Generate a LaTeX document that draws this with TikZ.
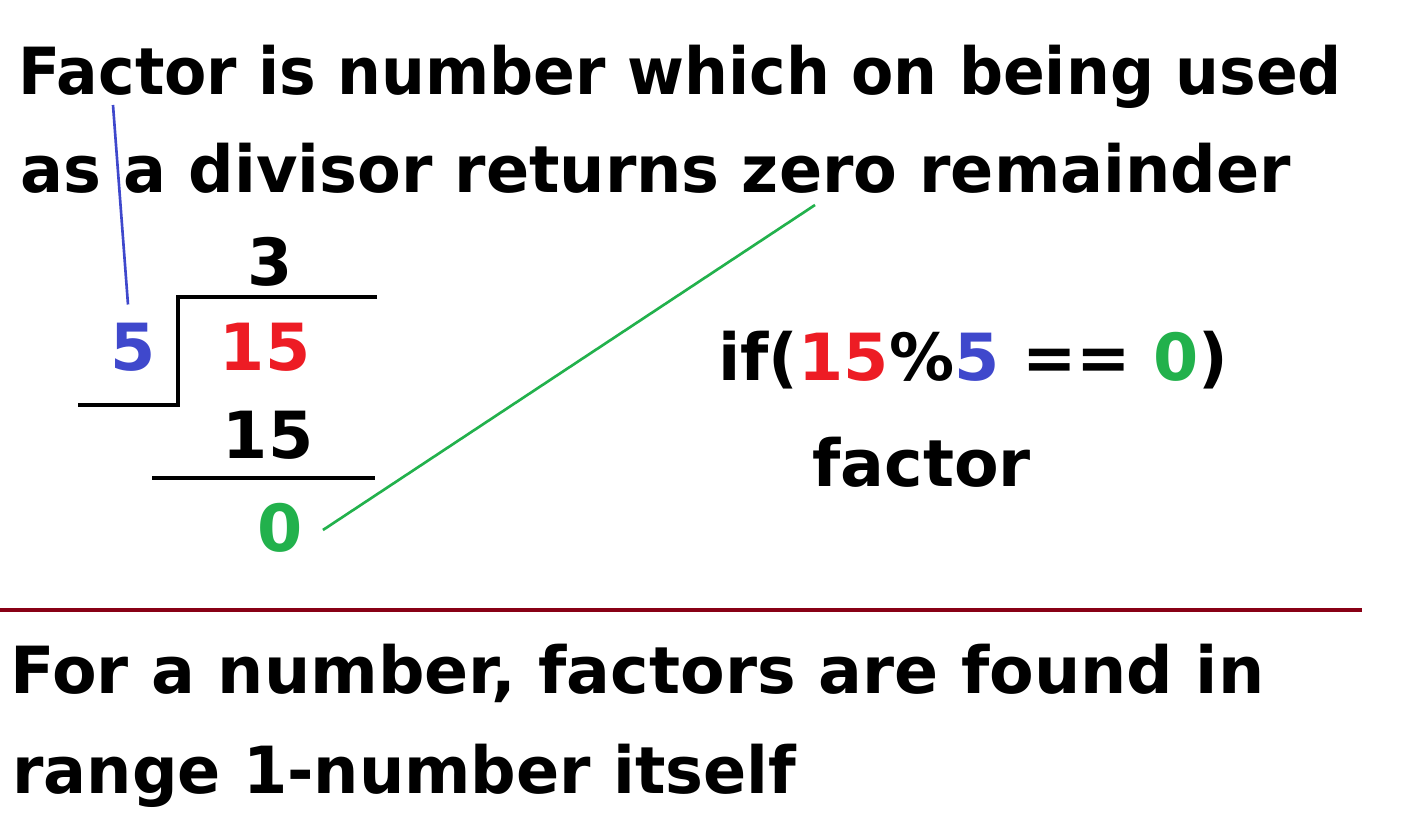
\documentclass[tikz,border=0pt]{standalone}
\usepackage{fontspec}
\setmainfont{DejaVu Sans}
\usepackage{graphicx}
\usepackage{xcolor}
\usetikzlibrary{positioning, calc}
\definecolor{pBlue}{HTML}{3F48CC}
\definecolor{pRed}{HTML}{ED1C24}
\definecolor{pGreen}{HTML}{22B14C}
\definecolor{pMaroon}{HTML}{880015}

\begin{document}
\begin{tikzpicture}[
  x=0.02cm, y=-0.02cm,
  txt/.style={inner sep=0pt, anchor=base west, font=\fontsize{37}{40}\selectfont\bfseries},
  num/.style={inner sep=0pt, font=\fontsize{37}{40}\selectfont\bfseries},
  rule/.style={line width=2.5pt},
]
  \useasboundingbox[fill=white] (0,0) rectangle (1424,821);
  % definition
  \node[txt] (def1) at (18,95) {\scalebox{0.948}[1]{Factor is number which on being used}};
  \node[txt] (def2) at (20,193) {\scalebox{0.98}[1]{as a divisor returns zero remainder}};
  % long division
  \node[num] (quot) at (270,262) {3};
  \node[num, text=pBlue] (divisor) at (133,347) {5};
  \node[num, text=pRed] (dividend) at (265,347) {15};
  \node[num] (prod) at (268,435) {15};
  \node[num, text=pGreen] (rem) at (280,528) {0};
  \coordinate (barL) at (178,297);
  \coordinate (barR) at (377,297);
  \coordinate (bkL) at (78,405);
  \coordinate (bkR) at (178,405);
  \coordinate (subL) at (152,478);
  \coordinate (subR) at (375,478);
  \draw[rule] (barR) -- (barL) -- (bkR) -- (bkL);
  \draw[rule] (subL) -- (subR);
  % pointers
  \coordinate (facPt) at (113,105);
  \coordinate (zeroPt) at (815,205);
  \draw[pBlue, line width=1.5pt] (facPt) -- ($(divisor.north)+(-5,-18)$);
  \draw[pGreen, line width=1.5pt] (zeroPt) -- ($(rem.east)+(20,2)$);
  % condition
  \node[num, anchor=west] (cond) at (718,360)
    {if(\textcolor{pRed}{15}\%\textcolor{pBlue}{5} == \textcolor{pGreen}{0})};
  \node[num, anchor=west] (fac) at (812,462) {factor};
  % separator
  \coordinate (sepL) at (0,610);
  \coordinate (sepR) at (1362,610);
  \draw[pMaroon, line width=2pt] (sepL) -- (sepR);
  \node[txt] (note1) at (10,693) {For a number, factors are found in};
  \node[txt] (note2) at (12,793) {\scalebox{0.98}[1]{range 1-number itself}};
\end{tikzpicture}
\end{document}
